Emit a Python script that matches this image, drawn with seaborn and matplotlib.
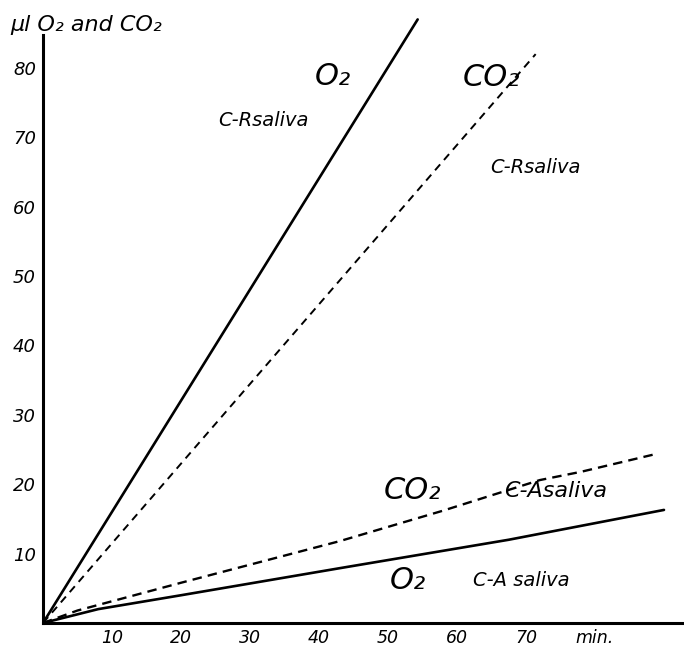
import matplotlib
matplotlib.use("Agg")
import matplotlib.pyplot as plt
import seaborn as sns

# values (minutes vs ul gas)
min_o2_cr = [0, 54.3]
o2_cr = [0, 87.0]
min_co2_cr = [0, 71.4]
co2_cr = [0, 82.0]
min_co2_ca = [0, 5, 20, 43, 58, 72, 78, 89]
co2_ca = [0, 1.8, 5.8, 11.8, 16.2, 20.6, 21.8, 24.4]
min_o2_ca = [0, 8, 20, 43, 67.5, 90]
o2_ca = [0, 2.0, 4.0, 7.9, 12.0, 16.3]

x_ticks = [10, 20, 30, 40, 50, 60, 70, 80]
x_labels = ['10', '20', '30', '40', '50', '60', '70', 'min.']
y_ticks = [10, 20, 30, 40, 50, 60, 70, 80]

sns.set_style("white")
plt.rcParams['font.family'] = ['DejaVu Sans']
plt.rcParams['text.color'] = 'black'
plt.rcParams['xtick.color'] = 'black'
plt.rcParams['ytick.color'] = 'black'

W, H = 684, 647
fig = plt.figure(figsize=(W / 100, H / 100), dpi=100)
ax = fig.add_axes([43 / W, (H - 623) / H, (W - 43) / W, 623 / H])

sns.lineplot(x=min_o2_cr, y=o2_cr, ax=ax, color='black', lw=1.9, sort=False)
sns.lineplot(x=min_co2_cr, y=co2_cr, ax=ax, color='black', lw=1.4, sort=False,
             linestyle=(0, (4, 3)))
sns.lineplot(x=min_co2_ca, y=co2_ca, ax=ax, color='black', lw=1.7, sort=False,
             linestyle=(0, (4, 2.6)))
sns.lineplot(x=min_o2_ca, y=o2_ca, ax=ax, color='black', lw=1.9, sort=False)

ax.set_xlim(0, 92.9)
ax.set_ylim(0, 89.8)

for s in ['top', 'right']:
    ax.spines[s].set_visible(False)
for s in ['left', 'bottom']:
    ax.spines[s].set_linewidth(2.2)
    ax.spines[s].set_color('black')
ax.spines['left'].set_bounds(0, 84.7)

ax.set_xticks(x_ticks)
ax.set_xticklabels(x_labels, fontsize=12.5, style='italic')
ax.set_yticks(y_ticks)
ax.set_yticklabels([str(v) for v in y_ticks], fontsize=13, style='italic')
ax.tick_params(axis='x', direction='inout', length=6, width=1, pad=1)
ax.tick_params(axis='y', direction='out', length=3, width=1.2, pad=2)
ax.grid(False)


def px(x, y):
    # pixel position in the image -> data coordinates
    return (x - 43) / 6.9, (623 - y) / 6.94


big = dict(fontsize=22, style='italic', ha='center', va='center')
small = dict(fontsize=14, style='italic', ha='center', va='center')

fig.text(10 / W, 1 - 25 / H, 'μl O₂ and CO₂', fontsize=16, style='italic',
         ha='left', va='center')

ax.text(*px(333, 76), 'O₂', **big)
ax.text(*px(263, 120), 'C-Rsaliva', **small)
ax.text(*px(491, 77), 'CO₂', **big)
ax.text(*px(535, 167), 'C-Rsaliva', **small)
ax.text(*px(412, 490), 'CO₂', **big)
ax.text(*px(556, 491), 'C-Asaliva', fontsize=16, style='italic', ha='center', va='center')
ax.text(*px(408, 580), 'O₂', **big)
ax.text(*px(521, 580), 'C-A saliva', **small)

fig.savefig('out.png', dpi=100)
